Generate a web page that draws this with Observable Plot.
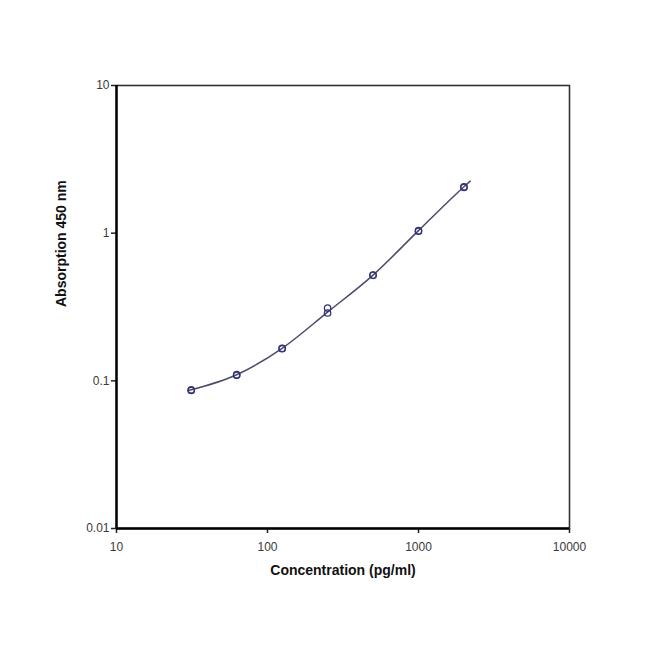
<!DOCTYPE html>
<html>
<head>
<meta charset="utf-8">
<script src="https://cdn.jsdelivr.net/npm/d3@7"></script>
<script src="https://cdn.jsdelivr.net/npm/@observablehq/plot@0.6"></script>
<style>
  html, body { margin: 0; padding: 0; background: #fff; }
</style>
</head>
<body>
<div id="chart"></div>
<script>
const concentration = [31.25, 62.5, 125, 250, 500, 1000, 2000];
const replicate1 = [0.087, 0.110, 0.166, 0.311, 0.520, 1.04, 2.06];
const replicate2 = [0.086, 0.109, 0.165, 0.288, 0.518, 1.03, 2.04];
const curveConc = [30, 62.5, 125, 250, 500, 1000, 2000, 2200];
const curveAbs = [0.086, 0.110, 0.166, 0.292, 0.520, 1.04, 2.06, 2.25];
const xTicks = [10, 100, 1000, 10000];
const yTicks = [0.01, 0.1, 1, 10];
const xTitle = "Concentration (pg/ml)";
const yTitle = "Absorption 450 nm";

const points = [
  ...concentration.map((c, i) => ({x: c, y: replicate1[i]})),
  ...concentration.map((c, i) => ({x: c, y: replicate2[i]}))
];
const curve = curveConc.map((c, i) => ({x: c, y: curveAbs[i]}));

const font = "Liberation Sans, Arial, sans-serif";

const chart = Plot.plot({
  width: 650,
  height: 650,
  marginLeft: 116,
  marginRight: 81,
  marginTop: 85,
  marginBottom: 122,
  style: {fontFamily: font, background: "#fff"},
  x: {type: "log", domain: [10, 10000], label: null},
  y: {type: "log", domain: [0.01, 10], label: null},
  marks: [
    Plot.axisX({ticks: xTicks, tickFormat: d => String(d), tickSize: 5, tickPadding: 9, fontSize: 12, fill: "#3a3a3a", stroke: "#222", strokeWidth: 1.5, label: null}),
    Plot.axisY({ticks: yTicks, tickFormat: d => String(d), tickSize: 5, tickPadding: 2, fontSize: 12, fill: "#3a3a3a", stroke: "#222", strokeWidth: 1.5, label: null}),
    Plot.frame({stroke: "#333", strokeWidth: 1.6}),
    Plot.ruleX([10], {stroke: "#000", strokeWidth: 2.4}),
    Plot.ruleY([0.01], {stroke: "#000", strokeWidth: 2.4}),
    Plot.line(curve, {x: "x", y: "y", curve: "monotone-x", stroke: "#4a4a6a", strokeWidth: 1.5}),
    Plot.dot(points, {x: "x", y: "y", r: 3.2, stroke: "#35357a", strokeWidth: 1.3, fill: "none"}),
    Plot.text([xTitle], {frameAnchor: "bottom", dy: 46, fontSize: 14, fontWeight: "bold", fill: "#111"}),
    Plot.text([yTitle], {frameAnchor: "left", dx: -55, rotate: -90, fontSize: 14, fontWeight: "bold", fill: "#111"})
  ]
});
document.getElementById("chart").appendChild(chart);
</script>
</body>
</html>
